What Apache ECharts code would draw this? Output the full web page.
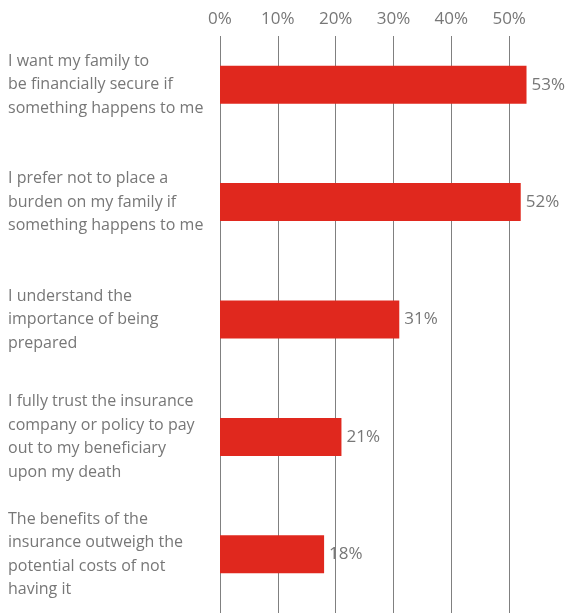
<!DOCTYPE html>
<html>
<head>
<meta charset="utf-8">
<script src="https://cdn.jsdelivr.net/npm/echarts@6/dist/echarts.min.js"></script>
<style>
  html, body { margin: 0; padding: 0; background: #fff; }
  #chart { width: 568px; height: 613px; }
</style>
</head>
<body>
<div id="chart"></div>
<script>
// Reasons given for holding life insurance (share of respondents, %)
const reasons = [
  'I want my family to\nbe financially secure if\nsomething happens to me',
  'I prefer not to place a\nburden on my family if\nsomething happens to me',
  'I understand the\nimportance of being\nprepared',
  'I fully trust the insurance\ncompany or policy to pay\nout to my beneficiary\nupon my death',
  'The benefits of the\ninsurance outweigh the\npotential costs of not\nhaving it'
];
const shares = [53, 52, 31, 21, 18];
const tickValues = [0, 10, 20, 30, 40, 50];

const textColor = '#777777';
const fontFamily = '"Open Sans", "Noto Sans", sans-serif';

const chart = echarts.init(document.getElementById('chart'), null, { renderer: 'canvas' });

chart.setOption({
  animation: false,
  grid: { left: 220, right: 1, top: 26, bottom: -2, containLabel: false },
  xAxis: {
    type: 'value',
    position: 'top',
    offset: -10,
    min: 0,
    max: 60,
    interval: 10,
    axisLine: { show: false },
    splitLine: { show: false },
    axisTick: {
      show: true,
      inside: true,
      length: 590,
      customValues: tickValues,
      lineStyle: { color: '#808080', width: 1 }
    },
    axisLabel: {
      customValues: tickValues,
      formatter: '{value}%',
      margin: 8,
      color: textColor,
      fontSize: 17,
      fontFamily: fontFamily
    }
  },
  yAxis: {
    type: 'category',
    inverse: true,
    data: reasons,
    axisLine: { show: false },
    axisTick: { show: false },
    splitLine: { show: false },
    axisLabel: {
      align: 'left',
      margin: 212,
      color: textColor,
      fontSize: 16,
      lineHeight: 23.5,
      fontFamily: fontFamily
    }
  },
  series: [{
    type: 'bar',
    data: shares,
    barWidth: 38,
    itemStyle: { color: '#e0281e' },
    label: {
      show: true,
      position: 'right',
      distance: 5,
      formatter: '{c}%',
      color: textColor,
      fontSize: 17,
      fontFamily: fontFamily
    }
  }]
});
</script>
</body>
</html>
